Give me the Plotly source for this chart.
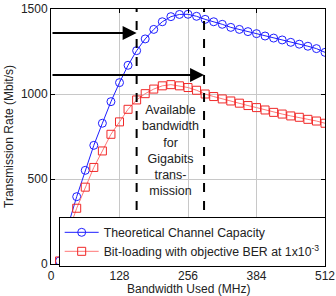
import plotly.graph_objects as go

# Data
bandwidth = [16, 32, 48, 64, 80, 96, 112, 128, 144, 160, 176, 192, 208, 224, 240, 256,
             272, 288, 304, 320, 336, 352, 368, 384, 400, 416, 432, 448, 464, 480, 496, 512]
capacity = [18, 228, 396, 551, 698, 828, 955, 1067, 1169, 1255, 1324, 1380, 1425, 1455, 1468, 1469,
            1457, 1439, 1425, 1410, 1392, 1380, 1367, 1355, 1341, 1329, 1318, 1304, 1293, 1281, 1267, 1245]
bitloading = [18, 185, 328, 452, 568, 665, 763, 836, 910, 965, 1002, 1029, 1048, 1055, 1048, 1038,
              1022, 1000, 985, 971, 959, 946, 932, 920, 906, 892, 882, 871, 863, 851, 841, 828]
x_ticks = [0, 128, 256, 384, 512]
y_ticks = [0, 500, 1000, 1500]
band_edges = [160, 286]
arrow_levels = [1359, 1112]

FONT = "Arial, Liberation Sans, sans-serif"

fig = go.Figure()
fig.add_trace(go.Scatter(
    x=bandwidth, y=capacity, mode="lines+markers",
    name="Theoretical Channel Capacity",
    line=dict(color="rgb(30,30,255)", width=1),
    marker=dict(symbol="circle-open", size=8, color="rgb(30,30,255)", line=dict(width=1)),
))
fig.add_trace(go.Scatter(
    x=bandwidth, y=bitloading, mode="lines+markers",
    name="Bit-loading with objective BER at 1x10<sup>-3</sup>",
    line=dict(color="rgb(255,120,120)", width=1),
    marker=dict(symbol="square-open", size=8, color="rgb(240,40,40)", line=dict(width=1)),
))

for xe in band_edges:
    fig.add_shape(type="line", x0=xe, x1=xe, y0=0, y1=1500, xref="x", yref="y",
                  line=dict(color="black", width=2, dash="dash"), layer="above")

for xe, yl in zip(band_edges, arrow_levels):
    fig.add_annotation(x=xe, y=yl, ax=0, ay=yl, xref="x", yref="y", axref="x", ayref="y",
                       showarrow=True, arrowhead=2, arrowsize=1.4, arrowwidth=2,
                       arrowcolor="black", text="")

fig.add_annotation(x=224, y=665, xref="x", yref="y", showarrow=False,
                   text="Available<br>bandwidth<br>for<br>Gigabits<br>trans-<br>mission",
                   font=dict(family=FONT, size=12.5, color="#222"), align="center")

# x-axis title as annotation (sits lower than Plotly's margin allows)
fig.add_annotation(x=0.5, y=0, xref="paper", yref="paper", xanchor="center", yanchor="top",
                   yshift=-16, showarrow=False, text="Bandwidth Used (MHz)",
                   font=dict(family=FONT, size=12, color="#222"))

axis_common = dict(
    showline=True, linecolor="black", linewidth=1, mirror="ticks",
    ticks="inside", ticklen=4, tickcolor="black",
    showgrid=True, gridcolor="#c8c8c8", gridwidth=1, zeroline=False,
    tickfont=dict(family=FONT, size=12, color="#222"),
)
fig.update_xaxes(range=[0, 512], tickvals=x_ticks, ticktext=[str(v) for v in x_ticks],
                 ticklabelstandoff=1,
                 **axis_common)
fig.update_yaxes(range=[0, 1500], tickvals=y_ticks, ticktext=[str(v) for v in y_ticks],
                 title=dict(text="Transmission Rate (Mbit/s)", standoff=4,
                            font=dict(family=FONT, size=12, color="#222")),
                 **axis_common)

fig.update_layout(
    width=336, height=296,
    margin=dict(l=51, r=11, t=9, b=32, autoexpand=False),
    paper_bgcolor="white", plot_bgcolor="white",
    showlegend=True,
    legend=dict(x=0.028, y=0.185, xanchor="left", yanchor="top",
                bgcolor="white", bordercolor="black", borderwidth=1,
                font=dict(family=FONT, size=12.3, color="#222"),
                itemwidth=34, tracegroupgap=0),
)

fig.write_html("out.html")
